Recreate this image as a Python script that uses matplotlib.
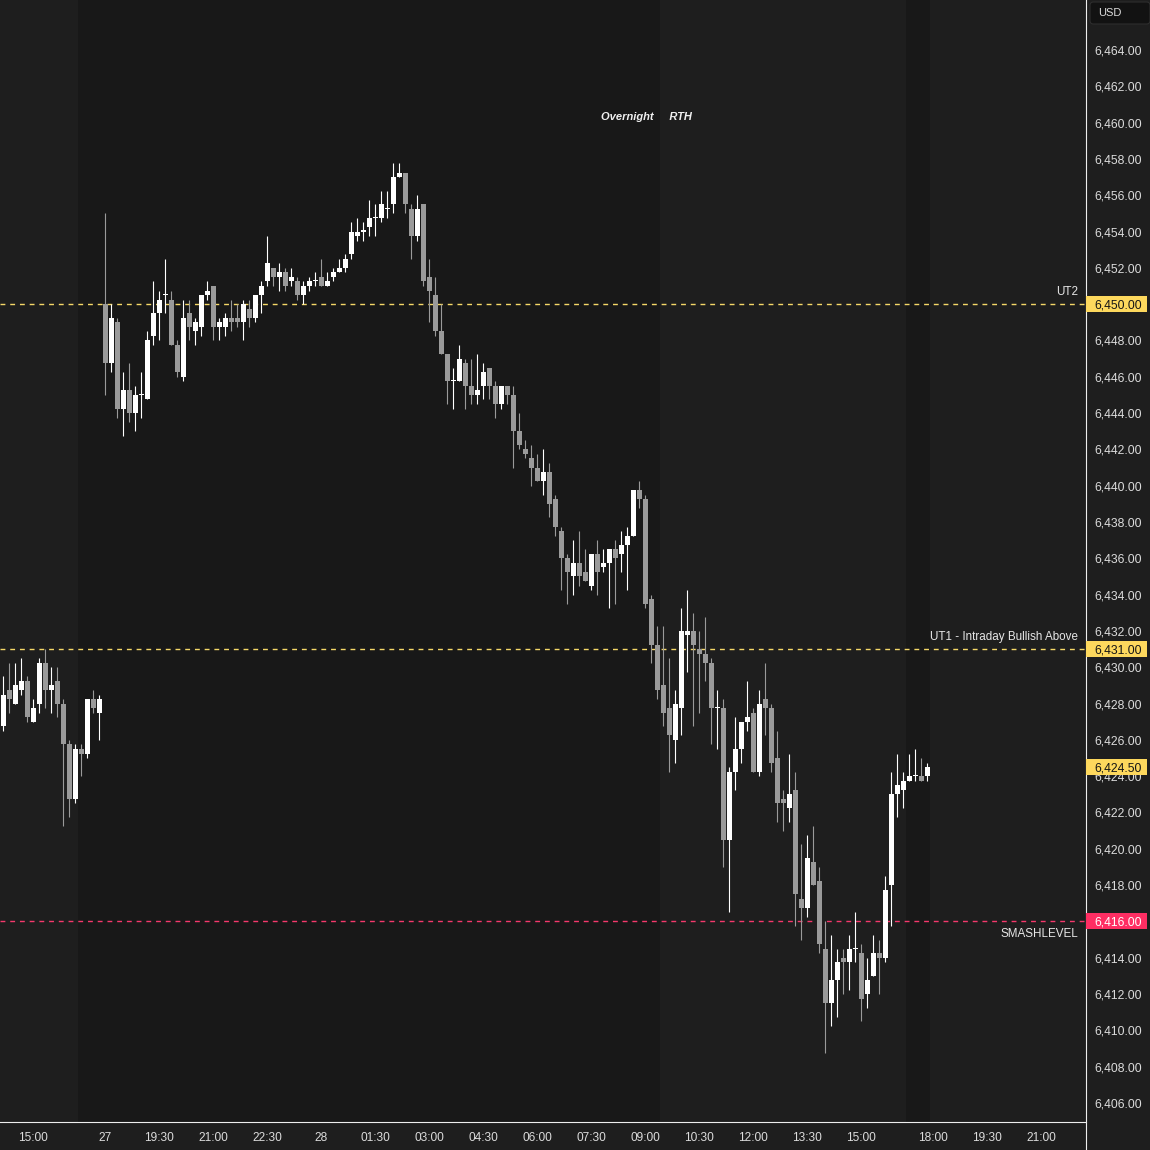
import numpy as np
import matplotlib.pyplot as plt
from matplotlib.patches import Rectangle, FancyBboxPatch
from matplotlib.lines import Line2D
from matplotlib.transforms import blended_transform_factory

plt.rcParams['font.family'] = ['Liberation Sans', 'DejaVu Sans']

# --- velas de 10 minutos (O/H/L/C) ---
opens = [
    6426.75, 6428.75, 6428.0, 6428.75, 6429.25, 6427.0, 6428.0, 6430.25, 6428.75, 6429.25,
    6428.0, 6425.75, 6422.75, 6425.5, 6425.25, 6428.25, 6427.5, 6450.0, 6446.75, 6449.0,
    6444.25, 6445.25, 6444.0, 6445.0, 6444.75, 6448.25, 6449.5, 6450.5, 6450.25, 6447.75,
    6446.0, 6449.5, 6448.5, 6448.75, 6450.5, 6451.0, 6448.75, 6448.75, 6449.25, 6449.25,
    6449.0, 6449.75, 6449.25, 6450.5, 6451.25, 6452.0, 6451.5, 6451.75, 6451.25, 6451.25,
    6450.5, 6451.0, 6451.25, 6451.5, 6451.0, 6451.5, 6451.75, 6452.0, 6452.75, 6453.75,
    6454.0, 6454.25, 6454.75, 6454.75, 6455.25, 6455.5, 6457.0, 6457.25, 6455.25, 6453.75,
    6455.5, 6451.5, 6450.5, 6448.5, 6447.25, 6445.75, 6445.75, 6446.75, 6445.5, 6445.0,
    6445.5, 6446.5, 6445.5, 6444.5, 6445.5, 6445.0, 6443.0, 6442.0, 6441.5, 6441.0,
    6440.25, 6440.75, 6439.25, 6437.5, 6436.0, 6435.0, 6435.75, 6435.25, 6434.5, 6436.25,
    6435.5, 6435.75, 6436.5, 6436.25, 6436.75, 6437.25, 6439.75, 6439.25, 6433.75, 6431.25,
    6429.0, 6427.75, 6426.0, 6427.75, 6431.75, 6432.0, 6431.0, 6430.75, 6430.25, 6427.75,
    6427.75, 6420.5, 6424.25, 6425.5, 6427.0, 6427.5, 6424.25, 6428.25, 6427.75, 6425.0,
    6422.75, 6422.25, 6423.25, 6417.25, 6416.75, 6419.25, 6418.25, 6414.5, 6411.5, 6412.75,
    6414.0, 6413.75, 6414.5, 6414.25, 6412.0, 6413.0, 6414.25, 6414.0, 6418.0, 6423.0,
    6423.25, 6423.75, 6424.0, 6424.0, 6424.0,
]
highs = [
    6429.5, 6430.25, 6430.25, 6430.5, 6429.5, 6428.25, 6430.5, 6431.0, 6430.0, 6430.0,
    6428.25, 6426.0, 6425.75, 6425.75, 6428.25, 6428.75, 6428.5, 6455.0, 6450.0, 6449.25,
    6446.25, 6446.75, 6445.5, 6446.25, 6448.5, 6451.25, 6450.75, 6452.5, 6450.75, 6448.0,
    6450.25, 6450.25, 6449.25, 6450.5, 6451.25, 6451.0, 6449.25, 6449.5, 6450.25, 6450.0,
    6450.25, 6450.25, 6450.5, 6451.25, 6453.75, 6452.0, 6452.25, 6452.0, 6452.0, 6451.5,
    6451.25, 6451.5, 6451.75, 6452.5, 6451.75, 6452.0, 6452.5, 6452.75, 6454.5, 6454.75,
    6454.5, 6455.75, 6455.5, 6456.25, 6456.25, 6457.75, 6457.75, 6457.25, 6455.5, 6456.0,
    6455.5, 6452.5, 6451.5, 6450.0, 6447.25, 6446.5, 6447.75, 6447.0, 6447.0, 6447.25,
    6446.75, 6446.5, 6445.75, 6445.5, 6445.5, 6445.5, 6444.0, 6442.5, 6442.25, 6441.75,
    6442.0, 6441.25, 6439.5, 6437.75, 6436.25, 6437.0, 6437.5, 6436.5, 6436.25, 6437.0,
    6436.5, 6436.5, 6437.0, 6437.5, 6437.75, 6439.75, 6440.25, 6439.5, 6434.0, 6432.25,
    6432.25, 6430.5, 6428.75, 6433.25, 6434.25, 6433.0, 6432.0, 6432.75, 6430.5, 6428.75,
    6428.25, 6424.5, 6427.25, 6427.0, 6429.25, 6427.75, 6428.75, 6430.25, 6428.0, 6426.5,
    6423.25, 6425.25, 6424.25, 6420.25, 6420.75, 6421.25, 6419.0, 6416.0, 6415.25, 6414.5,
    6414.5, 6415.25, 6416.5, 6414.75, 6414.0, 6415.25, 6415.0, 6418.5, 6424.25, 6425.25,
    6424.25, 6425.25, 6425.5, 6425.0, 6424.75,
]
lows = [
    6426.5, 6427.5, 6428.0, 6428.5, 6427.0, 6427.0, 6427.5, 6427.75, 6427.5, 6427.25,
    6421.25, 6421.75, 6422.5, 6424.0, 6425.0, 6427.5, 6426.0, 6445.0, 6446.25, 6443.75,
    6442.75, 6443.5, 6443.0, 6443.75, 6444.75, 6447.75, 6448.0, 6449.5, 6447.75, 6446.0,
    6445.75, 6448.0, 6447.75, 6448.25, 6450.25, 6448.0, 6448.0, 6448.25, 6448.5, 6448.75,
    6448.0, 6448.75, 6449.0, 6449.5, 6451.0, 6451.0, 6450.75, 6450.75, 6451.0, 6450.25,
    6450.0, 6450.75, 6451.0, 6451.0, 6451.0, 6451.25, 6451.75, 6451.75, 6452.5, 6453.5,
    6453.5, 6453.75, 6453.75, 6454.5, 6454.75, 6455.0, 6457.0, 6455.0, 6452.5, 6453.5,
    6451.0, 6449.0, 6448.25, 6447.25, 6444.5, 6444.25, 6445.75, 6444.25, 6444.5, 6444.5,
    6444.75, 6444.75, 6443.75, 6444.25, 6444.5, 6441.0, 6442.0, 6441.5, 6440.0, 6440.25,
    6439.5, 6438.25, 6437.25, 6434.25, 6433.5, 6434.0, 6434.5, 6434.75, 6434.25, 6434.0,
    6435.25, 6433.25, 6433.5, 6435.25, 6434.25, 6437.25, 6438.75, 6433.25, 6430.25, 6428.25,
    6426.75, 6424.25, 6424.75, 6426.25, 6429.75, 6426.75, 6427.5, 6429.25, 6425.75, 6425.5,
    6419.0, 6416.5, 6423.25, 6424.75, 6426.5, 6424.25, 6424.0, 6426.25, 6424.25, 6421.5,
    6421.0, 6421.5, 6415.75, 6415.0, 6416.25, 6418.0, 6414.25, 6408.75, 6410.25, 6410.75,
    6412.0, 6412.25, 6413.75, 6410.5, 6411.25, 6413.0, 6412.0, 6413.75, 6415.75, 6421.75,
    6422.25, 6423.75, 6423.75, 6423.75, 6423.75,
]
closes = [
    6428.5, 6428.25, 6429.0, 6429.25, 6427.25, 6427.75, 6430.25, 6428.75, 6429.0, 6428.0,
    6425.75, 6422.75, 6425.5, 6425.25, 6428.25, 6427.75, 6428.25, 6446.75, 6449.25, 6444.25,
    6445.25, 6444.0, 6445.0, 6445.0, 6448.0, 6449.5, 6450.25, 6450.5, 6447.75, 6446.25,
    6449.25, 6448.75, 6449.0, 6450.5, 6450.75, 6448.75, 6449.0, 6449.25, 6449.0, 6449.0,
    6450.0, 6449.25, 6450.5, 6451.0, 6452.25, 6451.5, 6451.75, 6451.0, 6451.5, 6450.5,
    6451.0, 6451.25, 6451.25, 6451.0, 6451.25, 6451.75, 6452.0, 6452.5, 6454.0, 6454.0,
    6454.0, 6454.75, 6454.75, 6455.5, 6455.25, 6457.0, 6457.25, 6455.5, 6453.75, 6455.25,
    6451.25, 6450.75, 6448.5, 6447.25, 6445.75, 6445.75, 6447.0, 6445.5, 6445.0, 6445.25,
    6446.25, 6445.5, 6444.5, 6445.5, 6445.0, 6443.0, 6442.25, 6441.75, 6441.0, 6440.25,
    6440.75, 6439.0, 6437.75, 6436.0, 6435.25, 6435.75, 6435.0, 6434.75, 6436.25, 6435.25,
    6435.75, 6436.5, 6436.0, 6436.75, 6437.25, 6439.75, 6439.25, 6433.5, 6431.25, 6428.75,
    6427.5, 6426.25, 6428.0, 6432.0, 6432.0, 6431.25, 6430.75, 6430.25, 6427.75, 6427.75,
    6420.5, 6424.25, 6425.5, 6427.0, 6427.25, 6424.25, 6428.0, 6427.75, 6424.75, 6422.5,
    6422.5, 6423.0, 6417.5, 6416.75, 6419.5, 6418.0, 6414.75, 6411.5, 6412.75, 6413.75,
    6413.75, 6414.5, 6414.5, 6411.75, 6412.75, 6414.25, 6414.0, 6417.75, 6423.0, 6423.5,
    6423.75, 6424.0, 6424.0, 6423.75, 6424.5,
]

time_labels = ["15:00", "27", "19:30", "21:00", "22:30", "28", "01:30", "03:00", "04:30",
               "06:00", "07:30", "09:00", "10:30", "12:00", "13:30", "15:00", "18:00",
               "19:30", "21:00"]
time_bars = [5, 17, 26, 35, 44, 53, 62, 71, 80, 89, 98, 107, 116, 125, 134, 143, 155, 164, 173]

level_prices = [6450.0, 6431.0, 6416.0]
level_names = ["UT2", "UT1 - Intraday Bullish Above", "SMASHLEVEL"]
level_colors = ["#f5d868", "#f5d868", "#f5386c"]
badge_colors = ["#fdd85d", "#fdd85d", "#ff2e63"]
badge_text = ["#151515", "#151515", "#ffffff"]

price_ticks = np.arange(6406, 6465, 2)
overnight_spans = [(12.5, 109.5), (150.5, 154.5)]  # en unidades de barra
rth_start = 109.5

BG = "#1e1e1e"
NIGHT = "#181818"
UP = "#ffffff"
DOWN = "#9a9a9a"
TXT = "#dcdcdc"
DY = 0.08  # bajar un poco el texto centrado

W = 1150
fig = plt.figure(figsize=(11.5, 11.5), dpi=100, facecolor=BG)
ax = fig.add_axes([0, 28 / W, 1085 / W, 1122 / W])
ax.set_facecolor(BG)
ax.set_xlim(-0.55, 180.28)
ax.set_ylim(6404.953, 6466.754)
for s in ax.spines.values():
    s.set_visible(False)

for a, b in overnight_spans:
    ax.axvspan(a, b, color=NIGHT, lw=0, zorder=0)

# velas
o = np.array(opens)
h = np.array(highs)
l = np.array(lows)
c = np.array(closes)
x = np.arange(len(o))
cols = np.where(c >= o, UP, DOWN)
ax.vlines(x, l, h, colors=cols, lw=0.8, zorder=3)
body = np.maximum(np.abs(c - o), 0.06)
ax.bar(x, body, bottom=np.minimum(o, c), width=0.78, color=cols, lw=0, zorder=4)

# niveles
for p, name, col in zip(level_prices, level_names, level_colors):
    ax.axhline(p, color=col, lw=1.0, ls=(0, (3.5, 3.5)), zorder=2)
    off = -9 if name == "SMASHLEVEL" else 9
    ax.annotate(name, xy=(1078 / 1085, p), xycoords=("axes fraction", "data"),
                xytext=(0, off), textcoords="offset points", ha="right", va="center",
                color="#e6e6e6", fontsize=8.4)

# sesiones
sess = blended_transform_factory(ax.transData, ax.transAxes)
ax.text(rth_start, 1 - 117 / 1122, "Overnight  ", transform=sess,
        ha="right", va="center", color="#f0f0f0", fontsize=8, fontweight="bold", fontstyle="italic")
ax.text(rth_start, 1 - 117 / 1122, "   RTH", transform=sess,
        ha="left", va="center", color="#f0f0f0", fontsize=8, fontweight="bold", fontstyle="italic")

# eje de tiempo
ax.set_yticks([])
ax.set_xticks(time_bars)
ax.set_xticklabels(time_labels)
ax.tick_params(axis="x", length=0, pad=7, colors=TXT, labelsize=8.6)

# eje de precios
blend = blended_transform_factory(fig.transFigure, ax.transData)
for p in price_ticks:
    fig.text(1094 / W, p - DY, f"{p:,.2f}", transform=blend, ha="left", va="center",
             color=TXT, fontsize=8.7)

badges = list(zip(level_prices, badge_colors, badge_text)) + [(closes[-1], "#fdd85d", "#151515")]
for p, bc, tc in badges:
    fig.add_artist(Rectangle((1086 / W, p - 0.44), 61 / W, 0.88, transform=blend,
                             facecolor=bc, edgecolor="none", zorder=5))
    fig.text(1094 / W, p - DY, f"{p:,.2f}", transform=blend, ha="left", va="center",
             color=tc, fontsize=8.7, zorder=6)

# caja USD
fig.add_artist(FancyBboxPatch((1090 / W, 1 - 24 / W), 60 / W, 22 / W,
                              boxstyle="round,pad=0,rounding_size=0.003",
                              transform=fig.transFigure, facecolor="#121212",
                              edgecolor="#2e2e2e", lw=0.8))
fig.text(1098 / W, 1 - 13 / W, "USD", ha="left", va="center", color=TXT, fontsize=8)

# separadores
fig.add_artist(Line2D([1085.5 / W, 1085.5 / W], [0, 1], color="#eeeeee", lw=0.8))
fig.add_artist(Line2D([0, 1085.5 / W], [28 / W, 28 / W], color="#eeeeee", lw=0.8))

fig.savefig("out.png", dpi=100, facecolor=BG)
